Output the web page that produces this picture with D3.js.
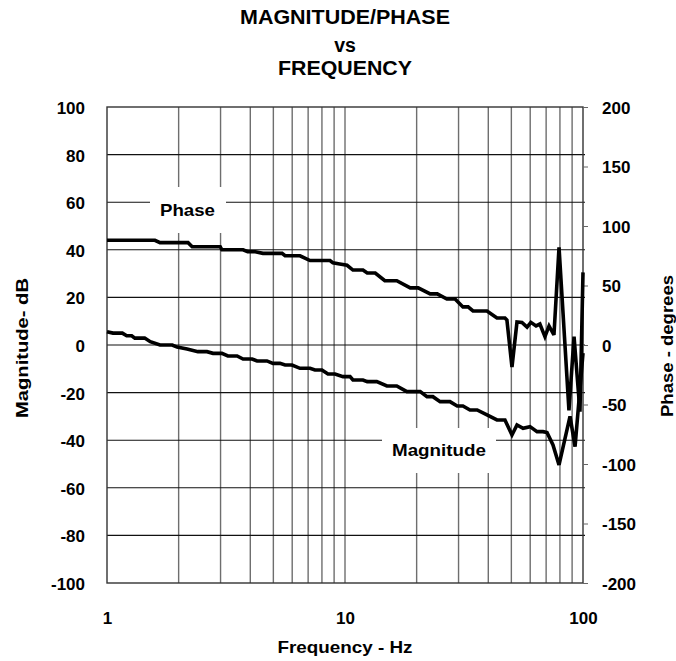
<!DOCTYPE html>
<html>
<head>
<meta charset="utf-8">
<script src="https://cdn.jsdelivr.net/npm/d3@7"></script>
<style>
  html, body { margin: 0; padding: 0; background: #fff; }
  svg { display: block; font-family: "Liberation Sans", Arial, Helvetica, sans-serif; font-weight: bold; }
</style>
</head>
<body>
<svg id="chart" width="676" height="661"></svg>
<script>
// ---- data ----
const magTicks = [-100, -80, -60, -40, -20, 0, 20, 40, 60, 80, 100];
const phaseTicks = [-200, -150, -100, -50, 0, 50, 100, 150, 200];
const freqTicks = [1, 10, 100];

const phaseFreq = [1.00, 1.59, 1.67, 2.19, 2.28, 2.99, 3.04, 3.73, 3.9, 4.2, 4.52, 5.44, 5.6, 6.47, 7.13, 8.65, 8.9, 9.5, 10.2, 10.8, 11.9, 12.4, 13.4, 14.7, 16.5, 18.8, 20.3, 22.8, 24.4, 26.8, 29.0, 31.3, 32.9, 34.5, 39.5, 43.5, 47.0, 47.9, 50.3, 52.8, 55.4, 58.2, 60.4, 63.5, 65.9, 69.2, 72.0, 75.5, 79.3, 87.3, 91.7, 97.1, 100];
const phaseDeg  = [88, 88, 86, 86, 82.6, 82.6, 80, 80, 78.4, 78.4, 77, 77, 75, 75, 71, 71, 69, 68, 67, 63, 63, 60.5, 60.5, 54, 54, 48, 48, 43, 43, 38.6, 38.6, 32, 32, 28.6, 28.6, 22.7, 22.7, 21, -18.5, 19.3, 19, 15, 19, 16, 17.6, 7, 16, 8.4, 82, -55, 7, -56, 61];

const magFreq = [1.00, 1.06, 1.16, 1.21, 1.27, 1.31, 1.44, 1.52, 1.67, 1.88, 1.97, 2.17, 2.41, 2.63, 2.79, 3.04, 3.22, 3.52, 3.73, 4.07, 4.27, 4.70, 4.98, 5.33, 5.60, 5.99, 6.47, 7.13, 7.48, 8.0, 8.48, 9.08, 9.81, 10.5, 10.8, 11.9, 12.4, 13.6, 15.0, 16.5, 18.2, 20.7, 22.1, 23.4, 25.1, 27.6, 29.6, 31.3, 33.5, 35.9, 39.5, 43.5, 47.0, 50.3, 52.8, 56.0, 59.9, 64.1, 67.9, 70.6, 74.8, 79.3, 88.2, 92.6, 100];
const magDb   = [5.6, 5, 5, 3.9, 3.9, 2.9, 2.9, 1.4, 0, 0, -0.9, -1.7, -2.8, -2.8, -3.5, -3.5, -4.6, -4.6, -5.9, -5.9, -6.7, -6.7, -7.7, -7.7, -8.4, -8.4, -9.8, -9.8, -10.5, -10.5, -12.2, -12.2, -13.3, -13.3, -14.7, -14.7, -15.4, -15.4, -17.2, -17.2, -19.6, -19.6, -21.7, -21.7, -23.8, -23.8, -25.6, -25.6, -27.3, -27.3, -29.4, -31.5, -31.5, -37.8, -33.6, -35, -34.3, -36.4, -36.4, -36.8, -42, -50.4, -30, -42.7, -3.4];

// ---- layout ----
const L = 107, R = 583, T = 107, B = 583;
const svg = d3.select("#chart");

const x  = d3.scaleLog().domain([1, 100]).range([L, R]);
const yL = d3.scaleLinear().domain([-100, 100]).range([B, T]);
const yR = d3.scaleLinear().domain([-200, 200]).range([B, T]);

// grid
const gridV = [];
for (let d = 1; d <= 100; d *= 10) for (let k = 1; k < 10; k++) { const v = d * k; if (v > 1 && v < 100) gridV.push(v); }

svg.append("g").selectAll("line").data(gridV).join("line")
  .attr("x1", d => x(d)).attr("x2", d => x(d))
  .attr("y1", T).attr("y2", B)
  .attr("stroke", "#6e6e6e").attr("stroke-width", 1.4);

svg.append("g").selectAll("line").data(magTicks.filter(d => d > -100 && d < 100)).join("line")
  .attr("x1", L).attr("x2", R + 2)
  .attr("y1", d => yL(d)).attr("y2", d => yL(d))
  .attr("stroke", "#111").attr("stroke-width", 1.1);

// frame
svg.append("rect").attr("x", L).attr("y", T).attr("width", R - L).attr("height", B - T)
  .attr("fill", "none").attr("stroke", "#333").attr("stroke-width", 1.4);

// axes
const plain = d => String(d);
const axL = svg.append("g").attr("transform", `translate(${L},0)`)
  .call(d3.axisLeft(yL).tickValues(magTicks).tickFormat(plain).tickSize(0).tickPadding(22));
const axR = svg.append("g").attr("transform", `translate(${R},0)`)
  .call(d3.axisRight(yR).tickValues(phaseTicks).tickFormat(plain).tickSize(5).tickPadding(14));
const axB = svg.append("g").attr("transform", `translate(0,${B})`)
  .call(d3.axisBottom(x).tickValues(freqTicks).tickFormat(plain).tickSize(0).tickPadding(29));

[axL, axR, axB].forEach(g => {
  g.select(".domain").remove();
  g.selectAll("text").attr("font-size", 17).attr("font-weight", "bold")
    .attr("font-family", "'Liberation Sans', Arial, sans-serif").attr("fill", "#000");
});
axL.selectAll("text").attr("dy", "0.38em");
axR.selectAll("text").attr("dy", "0.38em");
axR.selectAll("line").attr("stroke", "#666");

// in-plot labels with white backgrounds
svg.append("rect").attr("x", 150).attr("y", 187).attr("width", 76).attr("height", 46).attr("fill", "#fff");
svg.append("rect").attr("x", 382).attr("y", 428).attr("width", 114).attr("height", 45).attr("fill", "#fff");

svg.append("text").attr("x", 187.5).attr("y", 215.5).attr("text-anchor", "middle")
  .attr("font-size", 17).attr("textLength", 55).attr("lengthAdjust", "spacingAndGlyphs").text("Phase");
svg.append("text").attr("x", 439).attr("y", 455.5).attr("text-anchor", "middle")
  .attr("font-size", 17).attr("textLength", 94).attr("lengthAdjust", "spacingAndGlyphs").text("Magnitude");

// lines
const phaseData = phaseFreq.map((f, i) => [f, phaseDeg[i]]);
const magData = magFreq.map((f, i) => [f, magDb[i]]);

svg.append("path").datum(phaseData)
  .attr("d", d3.line().x(d => x(d[0])).y(d => yR(d[1])))
  .attr("fill", "none").attr("stroke", "#000").attr("stroke-width", 3.6).attr("stroke-miterlimit", 3);
svg.append("path").datum(magData)
  .attr("d", d3.line().x(d => x(d[0])).y(d => yL(d[1])))
  .attr("fill", "none").attr("stroke", "#000").attr("stroke-width", 3.6).attr("stroke-miterlimit", 3);

// titles
const title = svg.append("g").attr("text-anchor", "middle");
title.append("text").attr("x", 345).attr("y", 24).attr("font-size", 19.5)
  .attr("textLength", 210).attr("lengthAdjust", "spacingAndGlyphs").text("MAGNITUDE/PHASE");
title.append("text").attr("x", 345).attr("y", 52).attr("font-size", 19.5).text("vs");
title.append("text").attr("x", 345).attr("y", 75).attr("font-size", 19.5)
  .attr("textLength", 134).attr("lengthAdjust", "spacingAndGlyphs").text("FREQUENCY");

svg.append("text").attr("x", 345).attr("y", 653).attr("text-anchor", "middle")
  .attr("font-size", 16.5).attr("textLength", 135).attr("lengthAdjust", "spacingAndGlyphs").text("Frequency - Hz");

svg.append("text").attr("transform", "translate(28,348) rotate(-90)").attr("text-anchor", "middle")
  .attr("font-size", 16).attr("textLength", 140).attr("lengthAdjust", "spacingAndGlyphs").text("Magnitude- dB");
svg.append("text").attr("transform", "translate(672.5,346) rotate(-90)").attr("text-anchor", "middle")
  .attr("font-size", 16).attr("textLength", 142).attr("lengthAdjust", "spacingAndGlyphs").text("Phase - degrees");
</script>
</body>
</html>
